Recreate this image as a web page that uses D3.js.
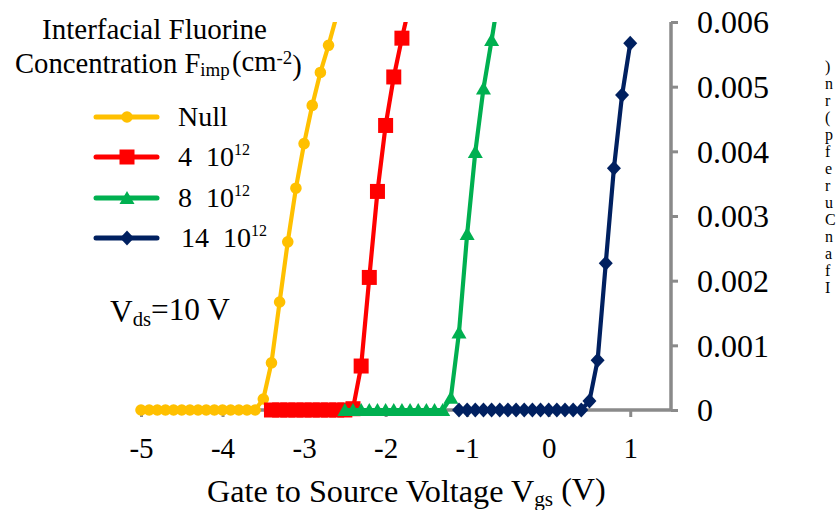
<!DOCTYPE html>
<html><head><meta charset="utf-8">
<script src="https://cdn.jsdelivr.net/npm/d3@7"></script>
<style>
html,body{margin:0;padding:0;background:#fff;overflow:hidden}svg{display:block}
svg text{font-family:"Liberation Serif","Times New Roman",Times,serif;}
</style>
</head><body>
<svg id="c" width="837" height="510"></svg>
<script>
// ---- data ----
const seriesNames = ["Null", "4", "8", "14"];
const seriesColors = ["#FFC000", "#FF0000", "#00B050", "#002060"];
const nullX = [-5.0,-4.9,-4.8,-4.7,-4.6,-4.5,-4.4,-4.3,-4.2,-4.1,-4.0,-3.9,-3.8,-3.7,-3.6,-3.5,-3.4,-3.3,-3.2,-3.1,-3.0,-2.9,-2.8,-2.7,-2.6];
const nullY = [0,0,0,0,0,0,0,0,0,0,0,0,0,0,0,0.00017,0.00073,0.00167,0.0026,0.00343,0.00412,0.00471,0.00522,0.00564,0.0061];
const f4X = [-3.4,-3.3,-3.2,-3.1,-3.0,-2.9,-2.8,-2.7,-2.6,-2.5,-2.4,-2.3,-2.2,-2.1,-2.0,-1.9,-1.8,-1.7];
const f4Y = [0,0,0,0,0,0,0,0,0,0,0.00002,0.00068,0.00205,0.00338,0.0044,0.00515,0.00575,0.0063];
const f8X = [-2.5,-2.4,-2.3,-2.2,-2.1,-2.0,-1.9,-1.8,-1.7,-1.6,-1.5,-1.4,-1.3,-1.2,-1.1,-1.0,-0.9,-0.8,-0.7,-0.6];
const f8Y = [0,0,0,0,0,0,0,0,0,0,0,0,0,0.00019,0.0012,0.00272,0.00399,0.00497,0.00572,0.0065];
const f14X = [-1.1,-1.0,-0.9,-0.8,-0.7,-0.6,-0.5,-0.4,-0.3,-0.2,-0.1,0.0,0.1,0.2,0.3,0.4,0.5,0.6,0.7,0.8,0.9,1.0];
const f14Y = [0,0,0,0,0,0,0,0,0,0,0,0,0,0,0,0,0.00014,0.00077,0.00227,0.00374,0.00487,0.00567];
const xTicks = [-5,-4,-3,-2,-1,0,1];
const yTicks = [0,0.001,0.002,0.003,0.004,0.005,0.006];
const yTickLabels = ["0","0.001","0.002","0.003","0.004","0.005","0.006"];
const edgeChars = [")","n","r","(","p","f","e","r","u","C","n","a","f","I"];

const svg = d3.select("#c");
const x = d3.scaleLinear().domain([-5, 1.5]).range([141, 671]);
const y = d3.scaleLinear().domain([0, 0.006]).range([410, 22]);
const gray = "#8a8a8a";

// fit a text element's font-size so that its width equals target
function fitWidth(sel, target) {
  const fs = parseFloat(sel.attr("font-size"));
  const w = sel.node().getBBox().width;
  if (w > 0) sel.attr("font-size", (fs * target / w).toFixed(2));
}

// axes
const xAxis = d3.axisBottom(x).tickValues(xTicks).tickSize(7).tickFormat(d => d < 0 ? "-" + Math.abs(d) : String(d));
const gx = svg.append("g").attr("transform", `translate(0,${y(0)})`).call(xAxis);
gx.attr("font-family", null).attr("font-size", null);
gx.select(".domain").attr("stroke", gray).attr("stroke-width", 3.5).attr("d", `M${x(-5)},0H${x(1.5)}`);
gx.selectAll(".tick line").attr("stroke", gray).attr("stroke-width", 3);
gx.selectAll(".tick text").attr("font-size", 29).attr("fill", "#000").attr("y", 49).attr("dy", "-0.05em");

const yAxis = d3.axisRight(y).tickValues(yTicks).tickSize(7).tickFormat((d, i) => yTickLabels[i]);
const gy = svg.append("g").attr("transform", `translate(${x(1.5)},0)`).call(yAxis);
gy.attr("font-family", null).attr("font-size", null);
gy.select(".domain").attr("stroke", gray).attr("stroke-width", 3.5).attr("d", `M0,${y(0.006)}V${y(0)}`);
gy.selectAll(".tick line").attr("stroke", gray).attr("stroke-width", 3);
gy.selectAll(".tick text").attr("font-size", 32).attr("fill", "#000").attr("x", 26).attr("dy", "0.34em");

// clip
svg.append("clipPath").attr("id", "plotclip").append("rect").attr("x", 100).attr("y", y(0.006)).attr("width", 600).attr("height", 480);

const series = [
  {xs: nullX, ys: nullY, shape: "circle"},
  {xs: f4X, ys: f4Y, shape: "square"},
  {xs: f8X, ys: f8Y, shape: "triangle"},
  {xs: f14X, ys: f14Y, shape: "diamond"}
];

function markerPath(shape) {
  if (shape === "circle") return d3.symbol(d3.symbolCircle, Math.PI * 5.8 * 5.8)();
  if (shape === "square") return "M-7.5,-7.5H7.5V7.5H-7.5Z";
  if (shape === "triangle") return "M0,-7L7.5,6H-7.5Z";
  return "M0,-7.5L7,0L0,7.5L-7,0Z";
}

const plot = svg.append("g").attr("clip-path", "url(#plotclip)");
const line = d3.line().x(d => x(d[0])).y(d => y(d[1]));
series.forEach((s, i) => {
  const pts = s.xs.map((v, j) => [v, s.ys[j]]);
  const g = plot.append("g");
  g.append("path").datum(pts).attr("d", line).attr("fill", "none")
    .attr("stroke", seriesColors[i]).attr("stroke-width", 4.2).attr("stroke-linejoin", "round");
  g.selectAll("path.m").data(pts).join("path").attr("class", "m")
    .attr("transform", d => `translate(${x(d[0])},${y(d[1])})`)
    .attr("d", markerPath(s.shape)).attr("fill", seriesColors[i]);
});

// title
const t1 = svg.append("text").attr("x", 42).attr("y", 39).attr("font-size", 29).text("Interfacial Fluorine");
fitWidth(t1, 225);
const t2 = svg.append("text").attr("x", 15).attr("y", 73).attr("font-size", 29);
t2.append("tspan").text("Concentration F");
t2.append("tspan").attr("font-size", "0.66em").attr("dy", "0.17em").text("imp");
t2.append("tspan").attr("dy", "-0.17em").attr("dx", "0.08em").text("(cm");
t2.append("tspan").attr("font-size", "0.66em").attr("dy", "-0.38em").text("-2");
t2.append("tspan").attr("dy", "0.38em").text(")");
fitWidth(t2, 287);

// legend
const legY = [117, 157, 198, 238];
series.forEach((s, i) => {
  const g = svg.append("g");
  g.append("line").attr("x1", 96).attr("x2", 157).attr("y1", legY[i]).attr("y2", legY[i])
    .attr("stroke", seriesColors[i]).attr("stroke-width", 5).attr("stroke-linecap", "round");
  g.append("path").attr("transform", `translate(127,${legY[i]})`).attr("d", markerPath(s.shape)).attr("fill", seriesColors[i]);
  const t = g.append("text").attr("x", i === 3 ? 181 : 178).attr("y", legY[i] + 9).attr("font-size", 28);
  if (i === 0) { t.text(seriesNames[i]); }
  else {
    t.append("tspan").text(seriesNames[i] + "\u00a0\u00a010");
    t.append("tspan").attr("font-size", 16).attr("dy", -11).text("12");
  }
});

// Vds annotation
const tv = svg.append("text").attr("x", 110).attr("y", 322).attr("font-size", 29);
tv.append("tspan").text("V");
tv.append("tspan").attr("font-size", "0.66em").attr("dy", "0.17em").text("ds");
tv.append("tspan").attr("dy", "-0.17em").text("=10 V");
fitWidth(tv, 120);

// x axis title
const tx = svg.append("text").attr("x", 207).attr("y", 502).attr("font-size", 31);
tx.append("tspan").text("Gate to Source Voltage V");
tx.append("tspan").attr("font-size", "0.66em").attr("dy", "0.17em").text("gs");
tx.append("tspan").attr("dy", "-0.17em").text(" (V)");
fitWidth(tx, 399);

// neighbouring text clipped at the right edge
svg.append("g").selectAll("text").data(edgeChars).join("text")
  .attr("x", 825).attr("y", (d, i) => 72 + i * 17).attr("font-size", 16).text(d => d);
</script>
</body></html>
